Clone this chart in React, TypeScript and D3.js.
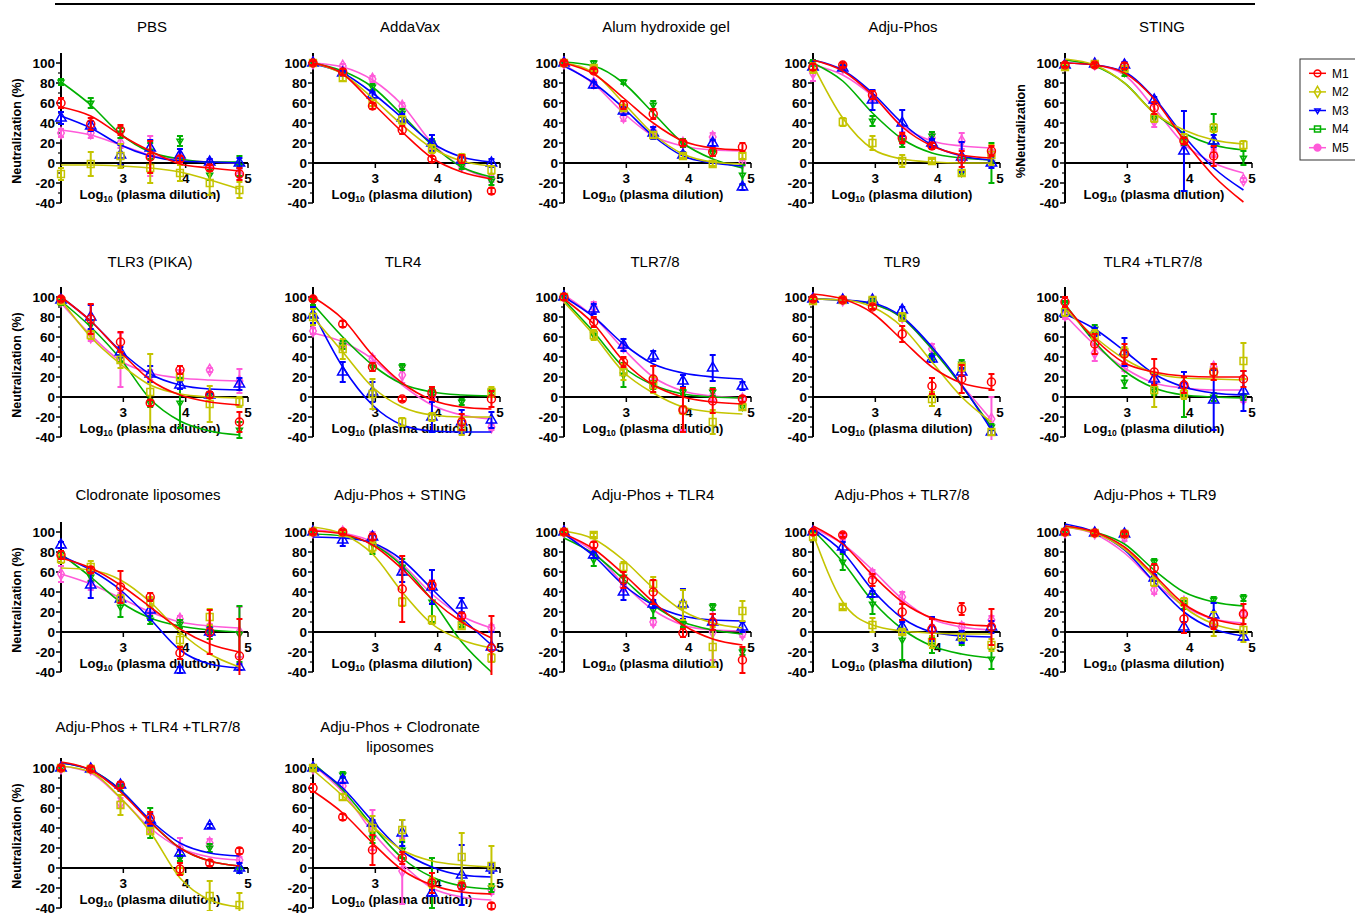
import * as d3 from "d3";

// plasma dilutions tested (x = log10 of these)
const dilutions = [100, 300, 900, 2700, 8100, 24300, 72900];
const mice = ["M1", "M2", "M3", "M4", "M5"];
const miceColors = ["#ff0000", "#c4c400", "#0000ff", "#00b000", "#ff5ad9"];
const yTicks = [-40, -20, 0, 20, 40, 60, 80, 100];
const yMinor = [-30, -10, 10, 30, 50, 70, 90];
const xTicks = [3, 4, 5];

// rows = M1..M5, columns = dilutions. mean %, SEM, and fitted curve read at each dilution
const pbsMean = [[60, 39, 33, 6, 4, -5, -11], [-11, -1, 7, -5, -10, -20, -27], [45, 37, 8, 15, 8, 1, 0], [81, 60, 30, 12, 22, -12, -3], [30, 30, 20, 7, 5, 0, -12]];
const pbsSem = [[5, 6, 5, 16, 3, 3, 6], [6, 12, 12, 15, 8, 12, 8], [6, 5, 10, 8, 6, 3, 5], [3, 5, 5, 8, 5, 5, 10], [4, 5, 5, 20, 5, 4, 5]];
const pbsFit = [[56, 47, 28, 12, -1, -5, -8], [-2, -2, -3, -5, -9, -17, -26], [47, 35, 18, 7, 2, 1, 0], [81, 58, 29, 11, 4, 1, 1], [33, 28, 18, 8, 3, 1, 0]];

const addaMean = [[100, 91, 57, 33, 4, 4, -28], [100, 85, 60, 43, 14, 5, -7], [100, 90, 68, 45, 20, 3, 0], [100, 91, 76, 50, 20, -3, -18], [100, 97, 84, 57, 18, -3, -15]];
const addaSem = [[2, 3, 3, 4, 3, 4, 3], [2, 3, 3, 4, 4, 4, 4], [2, 2, 3, 4, 8, 3, 4], [2, 2, 3, 4, 4, 3, 4], [2, 2, 3, 3, 4, 3, 4]];
const addaFit = [[100, 89, 60, 31, 5, -9, -16], [100, 89, 65, 38, 15, 2, -3], [99, 90, 70, 45, 20, 6, 1], [100, 92, 76, 48, 18, -4, -14], [100, 96, 83, 58, 20, -4, -16]];

const alumMean = [[100, 92, 58, 49, 20, 11, 16], [100, 95, 55, 28, 7, -1, 7], [100, 78, 52, 30, 8, 20, -24], [100, 100, 81, 58, 20, 10, -12], [100, 80, 46, 32, 20, 26, 0]];
const alumSem = [[2, 2, 4, 5, 3, 4, 4], [2, 2, 3, 3, 2, 2, 3], [2, 3, 4, 6, 3, 3, 3], [2, 2, 2, 4, 4, 3, 10], [2, 3, 4, 4, 3, 4, 3]];
const alumFit = [[100, 89, 65, 40, 22, 15, 13], [100, 90, 60, 29, 9, 1, -1], [97, 80, 55, 27, 7, 0, -3], [101, 97, 80, 50, 20, 4, -5], [98, 79, 50, 27, 17, 13, 12]];

const phosMean = [[96, 98, 68, 25, 17, 4, 12], [95, 41, 20, 2, 2, -10, 8], [96, 95, 63, 40, 20, 6, 0], [100, 95, 42, 20, 27, -10, 0], [90, 95, 65, 25, 25, 22, 8]];
const phosSem = [[3, 2, 4, 5, 3, 8, 5], [5, 4, 7, 6, 2, 3, 10], [3, 2, 10, 13, 4, 15, 5], [3, 3, 5, 4, 4, 3, 20], [8, 3, 3, 6, 4, 8, 5]];
const phosFit = [[103, 92, 68, 36, 17, 8, 5], [98, 45, 14, 4, 1, 0, 0], [103, 93, 70, 40, 18, 7, 3], [100, 82, 50, 24, 10, 5, 3], [98, 88, 67, 37, 22, 17, 15]];

const stingMean = [[98, 98, 97, 55, 22, 7, null], [96, 99, 94, 45, 25, 35, 18], [98, 99, 98, 63, 12, 22, null], [98, 99, 90, 45, 22, 34, 5], [98, 99, 98, 42, 18, 10, -17]];
const stingSem = [[2, 2, 3, 6, 3, 10, 0], [3, 2, 3, 4, 4, 4, 4], [2, 2, 3, 3, 40, 6, 0], [2, 2, 3, 4, 4, 15, 7], [2, 2, 3, 6, 3, 4, 2]];
const stingFit = [[100, 98, 90, 64, 23, -13, -39], [104, 98, 80, 50, 33, 23, 19], [100, 98, 91, 65, 27, -5, -27], [103, 97, 80, 50, 30, 18, 13], [100, 98, 88, 55, 19, 0, -10]];

const tlr3Mean = [[98, 78, 55, -6, 27, 2, -25], [96, 62, 37, 5, 20, -7, -5], [97, 80, 45, 23, 12, 2, 13], [95, 72, 40, -6, -6, 2, -33], [96, 60, 37, 22, 22, 27, 16]];
const tlr3Sem = [[2, 15, 10, 3, 4, 3, 10], [3, 4, 8, 38, 3, 18, 5], [2, 12, 5, 8, 4, 3, 6], [3, 5, 5, 4, 25, 3, 8], [3, 4, 27, 5, 5, 2, 12]];
const tlr3Fit = [[100, 76, 45, 17, 2, -5, -8], [97, 60, 33, 12, 3, 0, -1], [100, 76, 46, 23, 12, 8, 7], [96, 70, 38, -2, -24, -34, -38], [94, 62, 36, 24, 19, 17, 16]];

const tlr4Mean = [[98, 73, 30, -2, 4, -25, -2], [80, 48, 3, -25, -20, -30, 5], [82, 25, 5, null, -20, -25, -23], [95, 52, 30, 30, 5, -5, 5], [66, 53, 38, 22, 0, -25, -30]];
const tlr4Sem = [[2, 3, 4, 2, 6, 8, 8], [8, 10, 15, 4, 4, 8, 5], [8, 10, 10, 0, 15, 12, 8], [3, 4, 4, 3, 3, 3, 3], [3, 4, 3, 8, 3, 4, 3]];
const tlr4Fit = [[100, 78, 42, 14, -3, -10, -12], [80, 45, 10, -10, -18, -20, -20], [85, 30, -8, -28, -34, -35, -35], [93, 60, 32, 13, 5, 2, 1], [64, 55, 38, 12, -8, -18, -22]];

const tlr78Mean = [[100, 75, 35, 18, -13, -4, -2], [100, 62, 25, 12, -13, -25, -10], [100, 88, 52, 41, 16, 29, 11], [100, 62, 22, 12, 5, 5, -10], [100, 90, 50, 15, -13, -1, -2]];
const tlr78Sem = [[3, 5, 5, 13, 22, 12, 3], [3, 5, 8, 8, 4, 12, 3], [3, 5, 6, 5, 6, 13, 4], [3, 4, 12, 4, 3, 4, 3], [3, 5, 4, 5, 20, 4, 3]];
const tlr78Fit = [[98, 73, 36, 12, 0, -5, -7], [95, 62, 25, 4, -10, -15, -17], [100, 80, 53, 33, 24, 20, 18], [97, 65, 30, 12, 3, 0, -1], [102, 80, 48, 20, 6, 1, -1]];

const tlr9Mean = [[98, 97, 90, 63, 11, 18, 15], [96, 97, 97, 80, -2, 30, -35], [98, 97, 97, 87, 38, 25, -35], [98, 97, 97, 80, 40, 33, -30], [98, 97, 97, 80, 48, 30, -22]];
const tlr9Sem = [[2, 2, 2, 8, 8, 14, 8], [3, 2, 3, 4, 7, 4, 3], [2, 2, 3, 3, 3, 4, 3], [2, 2, 2, 4, 3, 4, 3], [2, 2, 2, 4, 5, 5, 22]];
const tlr9Fit = [[103, 98, 84, 57, 30, 14, 8], [98, 97, 90, 70, 35, 0, -25], [98, 97, 94, 80, 50, 12, -33], [98, 97, 93, 79, 48, 11, -30], [98, 97, 93, 79, 48, 12, -23]];

const tlr4tlr78Mean = [[95, 53, 43, 25, 12, 25, 18], [85, 62, 45, 7, 3, 25, 36], [84, 65, 45, 18, 12, -3, 6], [93, 68, 15, 6, 0, 0, 0], [82, 44, 30, 18, 10, 30, -2]];
const tlr4tlr78Sem = [[5, 10, 10, 13, 8, 8, 8], [4, 5, 5, 17, 5, 8, 18], [3, 4, 14, 5, 13, 30, 20], [3, 4, 6, 4, 20, 4, 3], [4, 8, 4, 5, 4, 3, 3]];
const tlr4tlr78Fit = [[92, 58, 34, 25, 21, 20, 20], [88, 60, 38, 24, 19, 18, 17], [83, 68, 46, 23, 10, 4, 2], [93, 55, 26, 9, 2, 0, -1], [82, 52, 29, 14, 9, 7, 7]];

const clodMean = [[77, 62, 45, 35, -21, 0, -24], [73, 65, 33, 30, -8, 15, null], [87, 47, 33, 22, -38, 0, -35], [78, 55, 25, 12, 8, -1, -2], [58, 50, 35, 22, 13, 5, 0]];
const clodSem = [[4, 3, 16, 4, 6, 22, 37], [4, 6, 4, 5, 6, 8, 0], [3, 13, 4, 10, 3, 4, 3], [3, 4, 10, 4, 4, 6, 28], [8, 8, 4, 4, 3, 3, 25]];
const clodFit = [[74, 64, 47, 25, 3, -12, -20], [64, 62, 52, 30, 0, -22, -35], [76, 62, 42, 13, -18, -32, -36], [78, 55, 30, 14, 6, 2, 0], [58, 48, 34, 20, 10, 6, 4]];

const phosStingMean = [[100, 100, 95, 43, 47, 16, -16], [100, 99, 85, 30, 12, 6, -26], [100, 92, 95, 60, 45, 27, -15], [100, 99, 88, 65, 30, 8, null], [100, 100, 95, 62, 47, 16, 4]];
const phosStingSem = [[2, 2, 3, 33, 4, 3, 32], [2, 2, 5, 4, 4, 3, 4], [2, 6, 3, 10, 17, 7, 15], [2, 2, 10, 8, 20, 3, 0], [2, 2, 5, 4, 5, 3, 3]];
const phosStingFit = [[101, 98, 87, 63, 33, 10, -6], [105, 98, 78, 40, 8, -8, -16], [95, 94, 89, 72, 43, 14, -13], [98, 96, 88, 66, 32, -10, -40], [102, 99, 90, 68, 38, 16, 4]];

const phosTlr4Mean = [[100, 87, 52, 40, -1, 10, -28], [100, 97, 65, 48, 27, -15, 21], [100, 77, 40, 28, 28, 10, 5], [100, 72, 55, 22, 8, 25, -20], [100, 80, 45, 10, 10, 0, -2]];
const phosTlr4Sem = [[2, 3, 8, 12, 4, 8, 13], [2, 2, 5, 7, 15, 20, 10], [2, 3, 8, 4, 15, 8, 5], [2, 6, 6, 8, 3, 3, 3], [2, 3, 4, 3, 3, 28, 3]];
const phosTlr4Fit = [[98, 83, 58, 30, 7, -7, -13], [101, 93, 72, 44, 21, 9, 4], [98, 76, 47, 27, 16, 12, 11], [94, 78, 53, 27, 10, 2, -2], [98, 80, 48, 22, 7, 2, 1]];

const phosTlr78Mean = [[100, 97, 52, 20, 3, 23, 5], [95, 25, 7, 0, -10, -5, -13], [100, 85, 38, 5, 3, -5, 5], [100, 70, 28, -8, -13, -10, -27], [100, 95, 58, 35, 3, 5, 12]];
const phosTlr78Sem = [[3, 2, 6, 8, 10, 6, 18], [3, 2, 7, 2, 6, 3, 6], [3, 5, 3, 5, 12, 6, 6], [3, 8, 10, 20, 8, 3, 10], [3, 3, 4, 5, 4, 4, 4]];
const phosTlr78Fit = [[106, 88, 57, 30, 14, 8, 6], [98, 30, 7, 1, -1, -2, -2], [103, 80, 42, 14, 0, -4, -5], [102, 70, 31, 3, -14, -22, -26], [104, 88, 62, 33, 13, 5, 2]];

const phosTlr9Mean = [[100, 99, 98, 64, 13, 8, 18], [100, 99, 98, 50, 30, 8, 2], [100, 99, 98, 54, 5, 17, -5], [100, 99, 98, 70, 27, 32, 34], [100, 99, 95, 42, 30, 10, 18]];
const phosTlr9Sem = [[2, 2, 2, 4, 14, 5, 10], [2, 2, 2, 4, 4, 12, 12], [2, 2, 2, 3, 5, 12, 3], [2, 2, 2, 3, 4, 3, 3], [2, 2, 4, 4, 4, 4, 4]];
const phosTlr9Fit = [[106, 100, 85, 57, 28, 13, 7], [105, 99, 83, 55, 25, 8, 1], [108, 100, 82, 50, 20, 3, -4], [106, 100, 88, 62, 40, 30, 26], [105, 98, 79, 50, 26, 13, 9]];

const phosTlr4Tlr78Mean = [[100, 99, 83, 50, -1, 5, 17], [100, 99, 63, 37, -3, -28, -37], [100, 99, 83, 48, 15, 42, 0], [100, 99, 80, 45, 10, 20, -2], [100, 99, 65, 40, 20, 25, 8]];
const phosTlr4Tlr78Sem = [[2, 2, 3, 6, 6, 3, 3], [2, 2, 10, 3, 3, 15, 12], [2, 2, 3, 6, 3, 2, 5], [2, 2, 3, 15, 3, 4, 3], [2, 2, 5, 4, 10, 4, 3]];
const phosTlr4Tlr78Fit = [[106, 98, 76, 46, 20, 7, 2], [102, 96, 70, 36, -10, -32, -39], [105, 98, 78, 48, 25, 15, 12], [105, 98, 78, 46, 20, 7, 2], [102, 95, 70, 40, 20, 11, 8]];

const phosClodMean = [[80, 51, 18, 10, -15, -18, -38], [100, 71, 40, 38, -15, 11, 2], [100, 88, 45, 35, -25, -7, 0], [100, 93, 30, 18, -15, -17, -20], [100, 82, 38, -3, -15, -18, -22]];
const phosClodSem = [[4, 3, 15, 6, 10, 3, 3], [2, 3, 12, 10, 5, 24, 20], [2, 3, 3, 13, 3, 30, 5], [2, 3, 5, 8, 25, 4, 4], [2, 4, 20, 33, 4, 4, 4]];
const phosClodFit = [[77, 55, 25, -2, -17, -24, -26], [98, 72, 42, 18, 7, 3, 1], [103, 80, 47, 17, 1, -7, -9], [105, 78, 42, 10, -9, -18, -21], [103, 76, 36, 4, -20, -29, -32]];

type Panel = { title: string[]; yLabel: string | null; mean: (number | null)[][]; sem: number[][]; fit: number[][] };

const NL = "Neutralization (%)";
const panels: Panel[] = [
  { title: ["PBS"], yLabel: NL, mean: pbsMean, sem: pbsSem, fit: pbsFit },
  { title: ["AddaVax"], yLabel: null, mean: addaMean, sem: addaSem, fit: addaFit },
  { title: ["Alum hydroxide gel"], yLabel: null, mean: alumMean, sem: alumSem, fit: alumFit },
  { title: ["Adju-Phos"], yLabel: null, mean: phosMean, sem: phosSem, fit: phosFit },
  { title: ["STING"], yLabel: "%Neutralization", mean: stingMean, sem: stingSem, fit: stingFit },
  { title: ["TLR3 (PIKA)"], yLabel: NL, mean: tlr3Mean, sem: tlr3Sem, fit: tlr3Fit },
  { title: ["TLR4"], yLabel: null, mean: tlr4Mean, sem: tlr4Sem, fit: tlr4Fit },
  { title: ["TLR7/8"], yLabel: null, mean: tlr78Mean, sem: tlr78Sem, fit: tlr78Fit },
  { title: ["TLR9"], yLabel: null, mean: tlr9Mean, sem: tlr9Sem, fit: tlr9Fit },
  { title: ["TLR4 +TLR7/8"], yLabel: null, mean: tlr4tlr78Mean, sem: tlr4tlr78Sem, fit: tlr4tlr78Fit },
  { title: ["Clodronate liposomes"], yLabel: NL, mean: clodMean, sem: clodSem, fit: clodFit },
  { title: ["Adju-Phos + STING"], yLabel: null, mean: phosStingMean, sem: phosStingSem, fit: phosStingFit },
  { title: ["Adju-Phos + TLR4"], yLabel: null, mean: phosTlr4Mean, sem: phosTlr4Sem, fit: phosTlr4Fit },
  { title: ["Adju-Phos + TLR7/8"], yLabel: null, mean: phosTlr78Mean, sem: phosTlr78Sem, fit: phosTlr78Fit },
  { title: ["Adju-Phos + TLR9"], yLabel: null, mean: phosTlr9Mean, sem: phosTlr9Sem, fit: phosTlr9Fit },
  { title: ["Adju-Phos + TLR4 +TLR7/8"], yLabel: NL, mean: phosTlr4Tlr78Mean, sem: phosTlr4Tlr78Sem, fit: phosTlr4Tlr78Fit },
  { title: ["Adju-Phos + Clodronate", "liposomes"], yLabel: null, mean: phosClodMean, sem: phosClodSem, fit: phosClodFit },
];

// layout
const colX = [61, 313, 564, 813, 1065];
const rowZero = [163, 397, 632, 868];
const rowTitle = [32, 267, 500, 732];
const titleShift = [91, 97, 102, 90, 97, 89, 90, 91, 89, 88, 87, 87, 89, 89, 90, 87, 87];
const axisW = 187;
const font = "'Liberation Sans', Arial, sans-serif";

const downTriangle = {
  draw(ctx: any, size: number) {
    const s = Math.sqrt(size / ((3 * Math.sqrt(3)) / 4));
    const h = (s * Math.sqrt(3)) / 2;
    ctx.moveTo(0, (2 * h) / 3);
    ctx.lineTo(s / 2, -h / 3);
    ctx.lineTo(-s / 2, -h / 3);
    ctx.closePath();
  },
};
const plotSymbols: any[] = [d3.symbolCircle, d3.symbolSquare, d3.symbolTriangle, downTriangle, d3.symbolDiamond];
const plotSizes = [50, 46, 46, 46, 38];

function PanelChart({ p, i }: { p: Panel; i: number }) {
  const col = i % 5;
  const row = Math.floor(i / 5);
  const x0 = colX[col];
  const zero = rowZero[row];
  const x = d3.scaleLinear().domain([2, 5]).range([x0, x0 + axisW]);
  const y = d3.scaleLinear().domain([-40, 110]).range([zero + 40, zero - 110]);
  const logs = dilutions.map((d) => Math.log10(d));
  const line = d3
    .line<number>()
    .x((_, k) => x(logs[k]))
    .y((d) => y(d))
    .curve(d3.curveMonotoneX);
  const clipId = `clip${i}`;
  const order = [4, 3, 2, 1, 0];
  return (
    <g>
      <defs>
        <clipPath id={clipId}>
          <rect x={x0 - 10} y={y(112)} width={axisW + 20} height={y(-43) - y(112)} />
        </clipPath>
      </defs>
      {p.title.map((t, k) => (
        <text key={k} x={x0 + titleShift[i]} y={rowTitle[row] + k * 20} textAnchor="middle" fontSize={15} fontFamily={font}>
          {t}
        </text>
      ))}
      {p.yLabel && (
        <text
          transform={`translate(${x0 - 44},${zero - 32}) rotate(-90)`}
          textAnchor="middle"
          dy="0.35em"
          fontSize={12.5}
          fontWeight="bold"
          fontFamily={font}
        >
          {p.yLabel}
        </text>
      )}
      {/* y axis */}
      <line x1={x0} x2={x0} y1={y(110)} y2={y(-40)} stroke="#000" strokeWidth={2} />
      {yTicks.map((t) => (
        <g key={t}>
          <line x1={x0 - 5} x2={x0} y1={y(t)} y2={y(t)} stroke="#000" strokeWidth={1.5} />
          <text x={x0 - 6} y={y(t)} dy="0.35em" textAnchor="end" fontSize={13.5} fontWeight="bold" fontFamily={font}>
            {t}
          </text>
        </g>
      ))}
      {yMinor.map((t) => (
        <line key={t} x1={x0 - 3} x2={x0} y1={y(t)} y2={y(t)} stroke="#000" strokeWidth={1.2} />
      ))}
      {/* x axis at zero */}
      <line x1={x0} x2={x(5)} y1={y(0)} y2={y(0)} stroke="#000" strokeWidth={2} />
      {xTicks.map((t) => (
        <g key={t}>
          <line x1={x(t)} x2={x(t)} y1={y(0)} y2={y(0) + 5} stroke="#000" strokeWidth={1.5} />
          <text x={x(t)} y={y(0) + 20} textAnchor="middle" fontSize={13.5} fontWeight="bold" fontFamily={font}>
            {t}
          </text>
        </g>
      ))}
      <text x={x0 + 89} y={y(0) + 36} textAnchor="middle" fontSize={13} fontWeight="bold" fontFamily={font}>
        Log
        <tspan fontSize={8.5} dy={3}>10</tspan>
        <tspan dy={-3}> (plasma dilution)</tspan>
      </text>
      <g clipPath={`url(#${clipId})`}>
        {order.map((s) => {
          const color = miceColors[s];
          const sym = d3.symbol().type(plotSymbols[s]).size(plotSizes[s])() as string;
          return (
            <g key={s}>
              <path d={line(p.fit[s]) as string} fill="none" stroke={color} strokeWidth={1.6} />
              {p.mean[s].map((v, k) => {
                if (v === null) return null;
                const e = p.sem[s][k];
                const cx = x(logs[k]);
                return (
                  <g key={k}>
                    {e > 0 && (
                      <g stroke={color} strokeWidth={2}>
                        <line x1={cx} x2={cx} y1={y(v - e)} y2={y(v + e)} />
                        <line x1={cx - 3} x2={cx + 3} y1={y(v - e)} y2={y(v - e)} />
                        <line x1={cx - 3} x2={cx + 3} y1={y(v + e)} y2={y(v + e)} />
                      </g>
                    )}
                    <path d={sym} transform={`translate(${cx},${y(v)})`} fill="none" stroke={color} strokeWidth={1.5} />
                  </g>
                );
              })}
            </g>
          );
        })}
      </g>
    </g>
  );
}

const legendSymbols: any[] = [d3.symbolCircle, d3.symbolDiamond, downTriangle, d3.symbolSquare, d3.symbolCircle];
const legendFilled = [false, false, false, false, true];

function Legend() {
  const ly = d3.scaleBand<string>().domain(mice).range([64, 157]);
  return (
    <g>
      <rect x={1300} y={59} width={70} height={101} fill="#fff" stroke="#333" strokeWidth={1} />
      {mice.map((m, k) => {
        const cy = (ly(m) as number) + ly.bandwidth() / 2;
        const sym = d3.symbol().type(legendSymbols[k]).size(36)() as string;
        return (
          <g key={m}>
            <line x1={1309} x2={1326} y1={cy} y2={cy} stroke={miceColors[k]} strokeWidth={1.5} />
            <path
              d={sym}
              transform={`translate(1317.5,${cy})`}
              fill={legendFilled[k] ? miceColors[k] : "none"}
              stroke={miceColors[k]}
              strokeWidth={1.5}
            />
            <text x={1332} y={cy} dy="0.36em" fontSize={12} fontFamily={font}>
              {m}
            </text>
          </g>
        );
      })}
    </g>
  );
}

export default function App() {
  return (
    <svg
      width={1355}
      height={914}
      style={{ position: "absolute", left: 0, top: 0, background: "#fff" }}
    >
      <rect width={1355} height={914} fill="#fff" />
      <line x1={55} x2={1255} y1={4} y2={4} stroke="#000" strokeWidth={2} />
      {panels.map((p, i) => (
        <PanelChart key={i} p={p} i={i} />
      ))}
      <Legend />
    </svg>
  );
}
